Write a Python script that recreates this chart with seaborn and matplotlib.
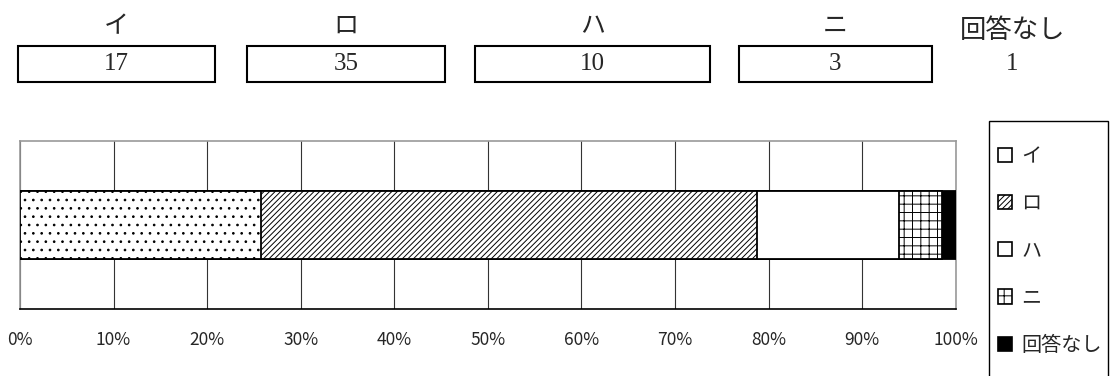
import numpy as np
import pandas as pd
import matplotlib
matplotlib.use("Agg")
import matplotlib.pyplot as plt
import seaborn as sns
from matplotlib.patches import Patch, Rectangle
from matplotlib.ticker import PercentFormatter

# answers and counts
choices = ["イ", "ロ", "ハ", "ニ", "回答なし"]
counts = [17, 35, 10, 3, 1]
hatches = ["..", "//////", "", "++", ""]
faces = ["white", "white", "white", "white", "black"]

sns.set_style("white")
plt.rcParams["font.family"] = ["Noto Sans CJK JP", "DejaVu Sans"]
plt.rcParams["hatch.linewidth"] = 0.7

pct = np.array(counts) / sum(counts) * 100
df = pd.DataFrame({"choice": choices, "count": counts, "pct": pct,
                   "cum": np.cumsum(pct), "row": ""})

fig = plt.figure(figsize=(11.1, 3.76), dpi=100)
ax = fig.add_axes([0.018, 0.178, 0.843, 0.447])

# stacked bar: draw cumulative totals from the last one back to the first
for i in range(len(df) - 1, -1, -1):
    sns.barplot(data=df.iloc[[i]], x="cum", y="row", orient="h", ax=ax,
                color=faces[i], edgecolor="black", linewidth=1.3,
                hatch=hatches[i], width=0.405, zorder=3)

ax.set_xlim(0, 100)
ax.set_ylim(0.5, -0.5)
ax.set_xticks(np.arange(0, 101, 10))
ax.xaxis.set_major_formatter(PercentFormatter(decimals=0))
ax.set_yticks([])
ax.set_xlabel("")
ax.set_ylabel("")
ax.grid(axis="x", color="#333333", linewidth=0.8, zorder=0)
ax.set_axisbelow(True)
ax.tick_params(axis="x", length=0, pad=16, labelsize=12.5)
for s in ["top", "left", "right"]:
    ax.spines[s].set_color("#999999")
    ax.spines[s].set_linewidth(1.2)
ax.spines["bottom"].set_color("black")
ax.spines["bottom"].set_linewidth(1.2)

# count boxes across the top
W, H = 1110, 376
box_left = [18, 247, 475, 739]
box_right = [215, 445, 710, 932]
serif = ["Liberation Serif", "Noto Sans CJK JP"]
for i in range(4):
    x0, x1 = box_left[i], box_right[i]
    fig.patches.append(Rectangle((x0 / W, 1 - 82 / H), (x1 - x0) / W, 36 / H,
                                 transform=fig.transFigure, fill=False,
                                 edgecolor="black", linewidth=1.5))
    xc = (x0 + x1) / 2 / W
    fig.text(xc, 1 - 26 / H, choices[i], ha="center", va="center", fontsize=18)
    fig.text(xc, 1 - 64 / H, str(counts[i]), ha="center", va="center",
             fontsize=18, family=serif)
fig.text(1013 / W, 1 - 30 / H, choices[4], ha="center", va="center", fontsize=19)
fig.text(1012 / W, 1 - 64 / H, str(counts[4]), ha="center", va="center",
         fontsize=18, family=serif)

# legend on the right, frame drawn separately (runs off the bottom edge)
fig.patches.append(Rectangle((989 / W, -0.05), (1108 - 989) / W, 1 - 121 / H + 0.05,
                             transform=fig.transFigure, fill=False,
                             edgecolor="black", linewidth=1.0))
handles = [Patch(facecolor=faces[i], edgecolor="black", hatch=hatches[i] if i in (1, 3) else "",
                 linewidth=1.2) for i in range(len(choices))]
leg = fig.legend(handles, choices, loc="upper left",
                 bbox_to_anchor=(998 / W, 1 - 146 / H), frameon=False,
                 fontsize=14.5, labelspacing=1.3, handlelength=0.7, handleheight=0.7,
                 handletextpad=0.45, borderpad=0, borderaxespad=0)

fig.savefig("out.png", dpi=100)
